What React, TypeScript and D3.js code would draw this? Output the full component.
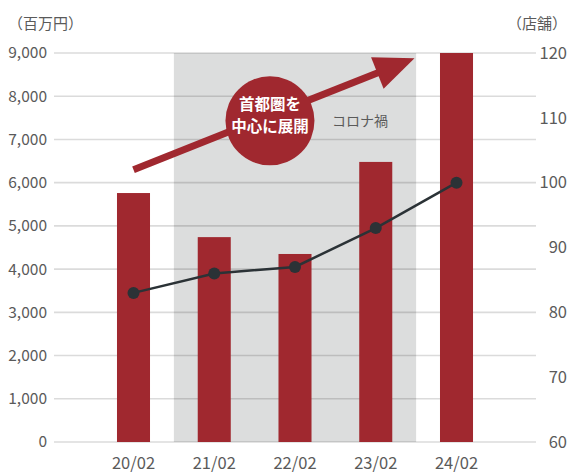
import React from "react";
import * as d3 from "d3";

const categories = ["20/02", "21/02", "22/02", "23/02", "24/02"];
const sales = [5760, 4740, 4350, 6480, 9000];
const stores = [83, 86, 87, 93, 100];
const leftTicks = [0, 1000, 2000, 3000, 4000, 5000, 6000, 7000, 8000, 9000];
const rightTicks = [60, 70, 80, 90, 100, 110, 120];
const leftUnit = "（百万円）";
const rightUnit = "（店舗）";
const covidRange = ["21/02", "23/02"];
const covidLabel = "コロナ禍";
const bubbleLines = ["首都圏を", "中心に展開"];
// annotation anchors in data units: [category index position, left-axis value]
const arrowFrom = [0, 6300];
const arrowTo = [3.48, 8880];
const bubbleAt = [1.69, 7430];

const W = 570;
const H = 474;
const FONT = "'Noto Sans CJK JP', 'Noto Sans', sans-serif";
const RED = "#a0282f";
const TXT = "#5a5a5a";

export default function App() {
  const x = d3
    .scaleBand<string>()
    .domain(categories)
    .range([54, 536])
    .paddingInner(0.591)
    .paddingOuter(0.78);
  const yL = d3.scaleLinear().domain([0, 9000]).range([442, 53]);
  const yR = d3.scaleLinear().domain([60, 120]).range([442, 53]);
  const step = x.step();
  const bw = x.bandwidth();
  const cx = (c: string) => (x(c) as number) + bw / 2;
  const cxi = (i: number) => cx(categories[0]) + i * step;

  const bandX0 = cx(covidRange[0]) - step / 2;
  const bandX1 = cx(covidRange[1]) + step / 2;

  const line = d3
    .line<number>()
    .x((_, i) => cx(categories[i]))
    .y((d) => yR(d));

  // arrow geometry
  const ax0 = cxi(arrowFrom[0]);
  const ay0 = yL(arrowFrom[1]);
  const ax1 = cxi(arrowTo[0]);
  const ay1 = yL(arrowTo[1]);
  const dx = ax1 - ax0;
  const dy = ay1 - ay0;
  const len = Math.hypot(dx, dy);
  const ux = dx / len;
  const uy = dy / len;
  const nx = -uy;
  const ny = ux;
  const headL = 40;
  const headW = 17;
  const bx = ax1 - ux * headL;
  const by = ay1 - uy * headL;
  const head = [
    [ax1, ay1],
    [bx + nx * headW, by + ny * headW],
    [bx - nx * headW, by - ny * headW],
  ]
    .map((p) => p.join(","))
    .join(" ");

  const bcx = cxi(bubbleAt[0]);
  const bcy = yL(bubbleAt[1]);

  return (
    <svg
      width={W}
      height={H}
      style={{ position: "absolute", left: 0, top: 0, background: "#fff" }}
      fontFamily={FONT}
    >
      <rect
        x={bandX0}
        y={yL(9000)}
        width={bandX1 - bandX0}
        height={yL(0) - yL(9000)}
        fill="#dcdddd"
      />
      {leftTicks.map((t) => (
        <line
          key={"g" + t}
          x1={54}
          x2={536}
          y1={yL(t)}
          y2={yL(t)}
          stroke="rgba(0,0,0,0.14)"
          strokeWidth={1.6}
        />
      ))}
      {leftTicks.map((t) => (
        <text
          key={"l" + t}
          x={47}
          y={yL(t)}
          dy="0.35em"
          textAnchor="end"
          fontSize={15.5}
          fill={TXT}
        >
          {d3.format(",")(t)}
        </text>
      ))}
      {rightTicks.map((t) => (
        <text
          key={"r" + t}
          x={567}
          y={yR(t)}
          dy="0.35em"
          textAnchor="end"
          fontSize={16.5}
          fill={TXT}
        >
          {t}
        </text>
      ))}
      <text x={8} y={24} dy="0.35em" fontSize={15} fill={TXT}>
        {leftUnit}
      </text>
      <text x={567} y={24} dy="0.35em" textAnchor="end" fontSize={15} fill={TXT}>
        {rightUnit}
      </text>
      {categories.map((c, i) => (
        <rect
          key={"b" + c}
          x={x(c)}
          y={yL(sales[i])}
          width={bw}
          height={yL(0) - yL(sales[i])}
          fill={RED}
        />
      ))}
      {categories.map((c) => (
        <text
          key={"x" + c}
          x={cx(c)}
          y={463}
          dy="0.35em"
          textAnchor="middle"
          fontSize={16.5}
          fill={TXT}
        >
          {c}
        </text>
      ))}
      <path d={line(stores) || ""} fill="none" stroke="#2b3236" strokeWidth={2.5} />
      {stores.map((s, i) => (
        <circle key={"p" + i} cx={cx(categories[i])} cy={yR(s)} r={6} fill="#2b3236" />
      ))}
      <line
        x1={ax0}
        y1={ay0}
        x2={bx + ux * 2}
        y2={by + uy * 2}
        stroke={RED}
        strokeWidth={7}
      />
      <polygon points={head} fill={RED} />
      <circle cx={bcx} cy={bcy} r={44.5} fill={RED} />
      {bubbleLines.map((t, i) => (
        <text
          key={"t" + i}
          x={bcx}
          y={bcy - 16 + i * 22}
          dy="0.35em"
          textAnchor="middle"
          fontSize={15.5}
          fontWeight="bold"
          fill="#fff"
        >
          {t}
        </text>
      ))}
      <text x={360} y={bcy} dy="0.35em" textAnchor="middle" fontSize={14} fill={TXT}>
        {covidLabel}
      </text>
    </svg>
  );
}
